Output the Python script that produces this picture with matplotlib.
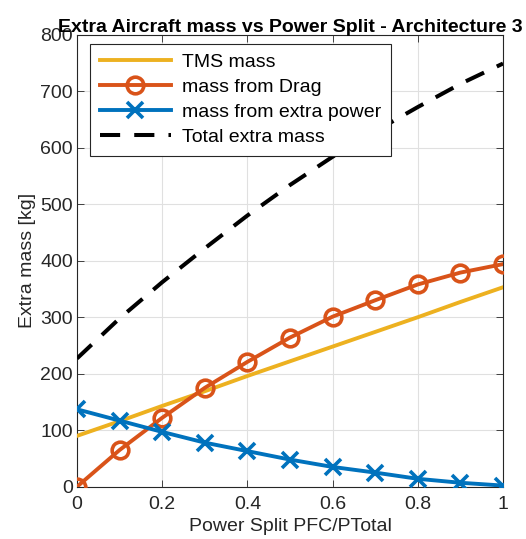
import matplotlib
matplotlib.use("Agg")
import matplotlib.pyplot as plt
from matplotlib.ticker import FixedLocator, FixedFormatter

# ── Data ─────────────────────────────────────────────────────────────────────
split = [0, 0.1, 0.2, 0.3, 0.4, 0.5, 0.6, 0.7, 0.8, 0.9, 1.0]
tms_mass = [90, 116, 143, 169, 196, 222, 248, 274, 300, 327, 353]
drag_mass = [0, 65, 122, 175, 221, 264, 301, 330, 358, 379, 394]
power_mass = [137, 117, 97, 78, 63, 48, 35, 25, 14, 7, 2]
total_mass = [227, 298, 362, 422, 480, 534, 584, 629, 672, 713, 749]

xticks = [0, 0.2, 0.4, 0.6, 0.8, 1.0]
xticklabels = ["0", "0.2", "0.4", "0.6", "0.8", "1"]
yticks = [0, 100, 200, 300, 400, 500, 600, 700, 800]

# MATLAB default colours
YELLOW = "#EDB120"
ORANGE = "#D95319"
BLUE = "#0072BD"

plt.rcParams.update({
    "font.family": ["Liberation Sans", "DejaVu Sans"],
    "font.size": 14,
})

fig = plt.figure(figsize=(5.26, 5.39), dpi=100)
ax = fig.add_axes([0.1464, 0.097, 0.8099, 0.8386])

ax.plot(split, tms_mass, color=YELLOW, lw=2.8, label="TMS mass", zorder=3)
ax.plot(split, drag_mass, color=ORANGE, lw=2.8, marker="o", ms=12,
        mfc="none", mew=2.6, label="mass from Drag", zorder=4)
ax.plot(split, power_mass, color=BLUE, lw=2.8, marker="x", ms=11,
        mew=2.6, label="mass from extra power", zorder=4)
ax.plot(split, total_mass, color="black", lw=2.9, ls=(0, (5, 3.5)),
        label="Total extra mass", zorder=3)

ax.set_xlim(0, 1)
ax.set_ylim(0, 800)
ax.xaxis.set_major_locator(FixedLocator(xticks))
ax.xaxis.set_major_formatter(FixedFormatter(xticklabels))
ax.set_yticks(yticks)
ax.tick_params(direction="in", top=True, right=True, length=5,
               width=0.6, labelsize=14, colors="#262626")
ax.tick_params(axis="x", pad=7)
ax.tick_params(axis="y", pad=3)
ax.grid(True, color="#E0E0E0", lw=0.8)
ax.set_axisbelow(True)
for s in ax.spines.values():
    s.set_color("#262626")
    s.set_linewidth(0.8)

ax.set_xlabel("Power Split PFC/PTotal", fontsize=14, color="#262626", labelpad=3)
ax.set_ylabel("Extra mass [kg]", fontsize=14, color="#262626", labelpad=3)
ax.set_title("Extra Aircraft mass vs Power Split - Architecture 3",
             fontsize=14, fontweight="bold", pad=2)

leg = ax.legend(loc="upper left", bbox_to_anchor=(0.03, 0.98), fontsize=14,
                handlelength=3.7, handletextpad=0.55, labelspacing=0.38,
                borderpad=0.5, borderaxespad=0, fancybox=False, framealpha=1,
                edgecolor="#262626")
leg.get_frame().set_linewidth(0.8)

fig.savefig("out.png", dpi=100)
